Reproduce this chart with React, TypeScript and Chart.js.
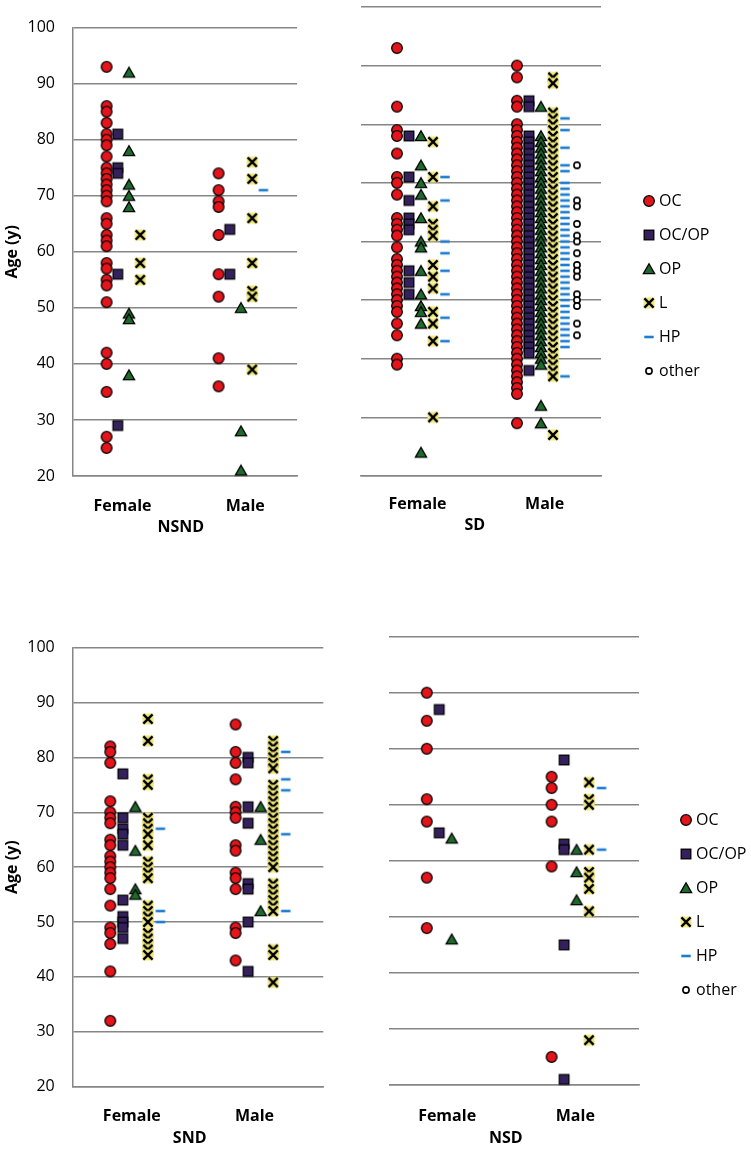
import React, { useEffect, useRef } from 'react';
import { Chart, registerables } from 'chart.js';

Chart.register(...registerables);

const FONT = '"Open Sans", "Noto Sans", sans-serif';
const SERIES = ['OC', 'OC/OP', 'OP', 'L', 'HP', 'other'];
const SERIES_OFFSETS = [-0.2, -0.1, 0, 0.1, 0.2, 0.3];
const GENDERS = ['Female', 'Male'];
const Y_MIN = 20;
const Y_MAX = 100;
const Y_STEP = 10;
const GRID = '#868686';

// ---- NSND ---- [Female, Male]
const NSND_OC = [
  [93, 86, 85, 83, 81, 80, 79, 77, 75, 74, 73, 72, 71, 70, 69, 66, 65, 63, 62, 61, 58, 57, 55, 54, 51, 42, 40, 35, 27, 25],
  [74, 71, 69, 68, 63, 56, 52, 41, 36],
];
const NSND_OCOP = [[81, 75, 74, 56, 29], [64, 56]];
const NSND_OP = [[92, 78, 72, 70, 68, 49, 48, 38], [50, 28, 21]];
const NSND_L = [[63, 58, 55], [76, 73, 66, 58, 53, 52, 39]];
const NSND_HP = [[], [71]];
const NSND_OTHER = [[], []];

// ---- SD ----
const SD_OC = [
  [93, 83, 79, 78, 75, 71, 70, 68, 64, 63, 62, 61, 59, 57, 56, 55, 54, 53, 52, 51, 50, 49, 48, 46, 44, 40, 39],
  [90, 88, 84, 83, 80, 79, 78, 77, 76, 75, 74, 73, 72, 71, 70, 69, 68, 67, 66, 65, 64, 63, 62, 61, 60, 59, 58, 57, 56, 55,
    54, 53, 52, 51, 50, 49, 48, 47, 46, 45, 44, 43, 42, 41, 40, 39, 38, 37, 36, 35, 34, 29],
];
const SD_OCOP = [
  [78, 71, 67, 64, 63, 62, 55, 53, 51],
  [84, 83, 78, 77, 76, 75, 74, 73, 72, 71, 70, 69, 68, 67, 66, 65, 64, 63, 62, 61, 60, 59, 58, 57, 56, 55, 54, 53, 52, 51,
    50, 49, 48, 47, 46, 45, 44, 43, 42, 41, 38],
];
const SD_OP = [
  [78, 73, 70, 68, 64, 60, 59, 55, 51, 49, 48, 46, 24],
  [83, 78, 77, 76, 75, 74, 73, 72, 71, 70, 69, 68, 67, 66, 65, 64, 63, 62, 61, 60, 59, 58, 57, 56, 55, 54, 53, 52, 51, 50,
    49, 48, 47, 46, 45, 44, 43, 42, 41, 40, 39, 32, 29],
];
const SD_L = [
  [77, 71, 66, 63, 62, 61, 56, 54, 52, 48, 46, 43, 30],
  [88, 87, 82, 81, 80, 79, 78, 77, 76, 75, 74, 73, 72, 71, 70, 69, 68, 67, 66, 65, 64, 63, 62, 61, 60, 59, 58, 57, 56, 55,
    54, 53, 52, 51, 50, 49, 48, 47, 46, 45, 44, 43, 42, 41, 40, 39, 38, 37, 27],
];
const SD_HP = [
  [71, 67, 60, 58, 55, 51, 47, 43],
  [81, 79, 76, 73, 72, 70, 69, 68, 67, 66, 65, 64, 63, 62, 61, 60, 59, 58, 57, 56, 55, 54, 53, 52, 51, 50, 49, 48, 47, 46,
    45, 44, 43, 42, 37],
];
const SD_OTHER = [[], [73, 67, 66, 63, 61, 60, 58, 56, 55, 54, 51, 50, 49, 46, 44]];

// ---- SND ----
const SND_OC = [
  [82, 81, 79, 72, 70, 69, 68, 65, 64, 62, 61, 60, 59, 58, 56, 53, 49, 48, 46, 41, 32],
  [86, 81, 79, 76, 71, 70, 69, 64, 63, 59, 58, 56, 49, 48, 43],
];
const SND_OCOP = [[77, 69, 67, 66, 64, 54, 51, 50, 49, 47], [80, 79, 71, 68, 57, 56, 50, 41]];
const SND_OP = [[71, 63, 56, 55], [71, 65, 52]];
const SND_L = [
  [87, 83, 76, 75, 69, 68, 67, 66, 64, 61, 60, 59, 58, 53, 52, 51, 50, 48, 47, 46, 45, 44],
  [83, 82, 81, 80, 79, 78, 75, 74, 73, 72, 71, 70, 69, 68, 67, 66, 65, 64, 63, 62, 61, 60, 57, 56, 55, 54, 53, 52, 45, 44, 39],
];
const SND_HP = [[67, 52, 50], [81, 76, 74, 66, 52]];
const SND_OTHER = [[], []];

// ---- NSD ----
const NSD_OC = [[90, 85, 80, 71, 67, 57, 48], [75, 73, 70, 67, 59, 25]];
const NSD_OCOP = [[87, 65], [78, 63, 62, 45, 21]];
const NSD_OP = [[64, 46], [62, 58, 53]];
const NSD_L = [[], [74, 71, 70, 62, 58, 57, 55, 51, 28]];
const NSD_HP = [[], [73, 62]];
const NSD_OTHER = [[], []];

const NSND_DATA = [NSND_OC, NSND_OCOP, NSND_OP, NSND_L, NSND_HP, NSND_OTHER];
const SD_DATA = [SD_OC, SD_OCOP, SD_OP, SD_L, SD_HP, SD_OTHER];
const SND_DATA = [SND_OC, SND_OCOP, SND_OP, SND_L, SND_HP, SND_OTHER];
const NSD_DATA = [NSD_OC, NSD_OCOP, NSD_OP, NSD_L, NSD_HP, NSD_OTHER];

function makeMarker(kind: string): HTMLCanvasElement {
  const c = document.createElement('canvas');
  const s = 16;
  c.width = s;
  c.height = s;
  const g = c.getContext('2d') as CanvasRenderingContext2D;
  const m = s / 2;
  g.strokeStyle = '#000';
  g.lineWidth = 1.3;
  g.lineJoin = 'miter';
  if (kind === 'OC') {
    g.beginPath();
    g.arc(m, m, 5.3, 0, Math.PI * 2);
    g.fillStyle = '#E5141B';
    g.fill();
    g.stroke();
  } else if (kind === 'OC/OP') {
    g.fillStyle = '#35205E';
    g.fillRect(m - 4.8, m - 4.8, 9.6, 9.6);
    g.strokeRect(m - 4.8, m - 4.8, 9.6, 9.6);
  } else if (kind === 'OP') {
    g.beginPath();
    g.moveTo(m, m - 5.2);
    g.lineTo(m + 5.6, m + 4.6);
    g.lineTo(m - 5.6, m + 4.6);
    g.closePath();
    g.fillStyle = '#1E6A2C';
    g.fill();
    g.stroke();
  } else if (kind === 'L') {
    g.fillStyle = '#EFE77A';
    g.fillRect(m - 5.5, m - 5.5, 11, 11);
    g.lineWidth = 2.4;
    g.beginPath();
    g.moveTo(m - 4.6, m - 4.6);
    g.lineTo(m + 4.6, m + 4.6);
    g.moveTo(m + 4.6, m - 4.6);
    g.lineTo(m - 4.6, m + 4.6);
    g.stroke();
  } else if (kind === 'HP') {
    g.fillStyle = '#1F7DCF';
    g.fillRect(m - 4.7, m - 1.3, 9.4, 2.6);
  } else {
    g.beginPath();
    g.arc(m, m, 3.1, 0, Math.PI * 2);
    g.fillStyle = '#fff';
    g.fill();
    g.lineWidth = 1.6;
    g.stroke();
  }
  return c;
}

type Box = { l: number; t: number; w: number; h: number };
type Area = { l: number; t: number; r: number; b: number };

type PanelProps = {
  box: Box;
  area: Area;
  data: number[][][];
  title: string;
  showY: boolean;
  tickX: number[];
  labelY: number;
  titleY: number;
};

function Panel({ box, area, data, title, showY, tickX, labelY, titleY }: PanelProps) {
  const ref = useRef<HTMLCanvasElement>(null);
  useEffect(() => {
    const markers = SERIES.map(makeMarker);
    const yW = area.l - box.l;
    const xH = box.t + box.h - area.b;
    const padTop = area.t - box.t;
    const padRight = box.l + box.w - area.r;
    const tickPad = labelY - area.b - 9.6;
    const titlePadBottom = box.t + box.h - titleY - 9.6;
    const bold = { family: FONT, size: 16, weight: 'bold' as const };
    const chart = new Chart(ref.current as HTMLCanvasElement, {
      type: 'scatter',
      data: {
        datasets: SERIES.map((name, si) => ({
          label: name,
          data: data[si].flatMap((vals, gi) =>
            vals.map((v) => ({ x: gi + 1 + SERIES_OFFSETS[si], y: v }))
          ),
          pointStyle: markers[si] as any,
          pointRadius: 5,
          clip: false as any,
        })),
      },
      options: {
        animation: false,
        responsive: false,
        maintainAspectRatio: false,
        events: [],
        layout: { padding: { top: padTop, right: padRight, left: 0, bottom: 0 } },
        plugins: { legend: { display: false }, tooltip: { enabled: false } },
        scales: {
          x: {
            type: 'linear',
            min: 0.5,
            max: 2.5,
            grid: { display: false, drawTicks: false },
            border: { display: true, color: GRID, width: 1.5 },
            afterBuildTicks: (s: any) => {
              s.ticks = tickX.map((v) => ({ value: v }));
            },
            afterFit: (s: any) => {
              s.height = xH;
            },
            ticks: {
              autoSkip: false,
              maxRotation: 0,
              minRotation: 0,
              padding: tickPad,
              color: '#000',
              font: bold,
              callback: (v: any) => (Number(v) < 1.5 ? GENDERS[0] : GENDERS[1]),
            },
            title: {
              display: true,
              text: title,
              color: '#000',
              font: bold,
              padding: { top: 0, bottom: titlePadBottom },
            },
          },
          y: {
            min: Y_MIN,
            max: Y_MAX,
            afterFit: (s: any) => {
              s.width = yW;
            },
            ticks: {
              stepSize: Y_STEP,
              display: showY,
              padding: 18,
              color: '#000',
              font: { family: FONT, size: 16 },
            },
            grid: { color: GRID, lineWidth: 1.5, drawTicks: false },
            border: { display: showY, color: GRID, width: 1.5 },
            title: {
              display: showY,
              text: 'Age (y)',
              color: '#000',
              font: bold,
              padding: { top: 3, bottom: 0 },
            },
          },
        },
      },
    });
    return () => chart.destroy();
  }, []);
  return (
    <canvas
      ref={ref}
      width={box.w}
      height={box.h}
      style={{ position: 'absolute', left: box.l, top: box.t, width: box.w, height: box.h }}
    />
  );
}

function Legend({ box }: { box: Box }) {
  const ref = useRef<HTMLCanvasElement>(null);
  useEffect(() => {
    const markers = SERIES.map(makeMarker);
    const chart = new Chart(ref.current as HTMLCanvasElement, {
      type: 'scatter',
      data: {
        datasets: SERIES.map((name, si) => ({
          label: name,
          data: [],
          pointStyle: markers[si] as any,
        })),
      },
      options: {
        animation: false,
        responsive: false,
        maintainAspectRatio: false,
        events: [],
        layout: { padding: 0 },
        scales: { x: { display: false }, y: { display: false } },
        plugins: {
          tooltip: { enabled: false },
          legend: {
            position: 'left',
            align: 'start',
            maxWidth: 400,
            labels: {
              usePointStyle: true,
              boxWidth: 4,
              padding: 18,
              color: '#000',
              font: { family: FONT, size: 16 },
            },
          },
        },
      },
    });
    return () => chart.destroy();
  }, []);
  return (
    <canvas
      ref={ref}
      width={box.w}
      height={box.h}
      style={{ position: 'absolute', left: box.l, top: box.t, width: box.w, height: box.h }}
    />
  );
}

export default function App() {
  return (
    <div style={{ position: 'absolute', left: 0, top: 0, width: 751, height: 1149, background: '#fff', overflow: 'hidden' }}>
      <Panel
        box={{ l: 0, t: 0, w: 310, h: 540 }}
        area={{ l: 73, t: 10, r: 297, b: 476 }}
        data={NSND_DATA}
        title={'NSND  '}
        showY={true}
        tickX={[0.942, 2.038]}
        labelY={506}
        titleY={527}
      />
      <Panel
        box={{ l: 340, t: 0, w: 270, h: 540 }}
        area={{ l: 361, t: 7, r: 601, b: 476 }}
        data={SD_DATA}
        title={'SD   '}
        showY={false}
        tickX={[0.971, 2.03]}
        labelY={504}
        titleY={525}
      />
      <Panel
        box={{ l: 0, t: 620, w: 340, h: 529 }}
        area={{ l: 72.7, t: 633.3, r: 323.3, b: 1086.7 }}
        data={SND_DATA}
        title={'SND    '}
        showY={true}
        tickX={[0.972, 1.951]}
        labelY={1116.7}
        titleY={1138}
      />
      <Panel
        box={{ l: 340, t: 620, w: 310, h: 529 }}
        area={{ l: 389.3, t: 636.7, r: 639, b: 1085 }}
        data={NSD_DATA}
        title={'NSD    '}
        showY={false}
        tickX={[0.963, 1.99]}
        labelY={1116.7}
        titleY={1138.3}
      />
      <Legend box={{ l: 629, t: 175, w: 122, h: 230 }} />
      <Legend box={{ l: 666, t: 794, w: 85, h: 230 }} />
    </div>
  );
}
